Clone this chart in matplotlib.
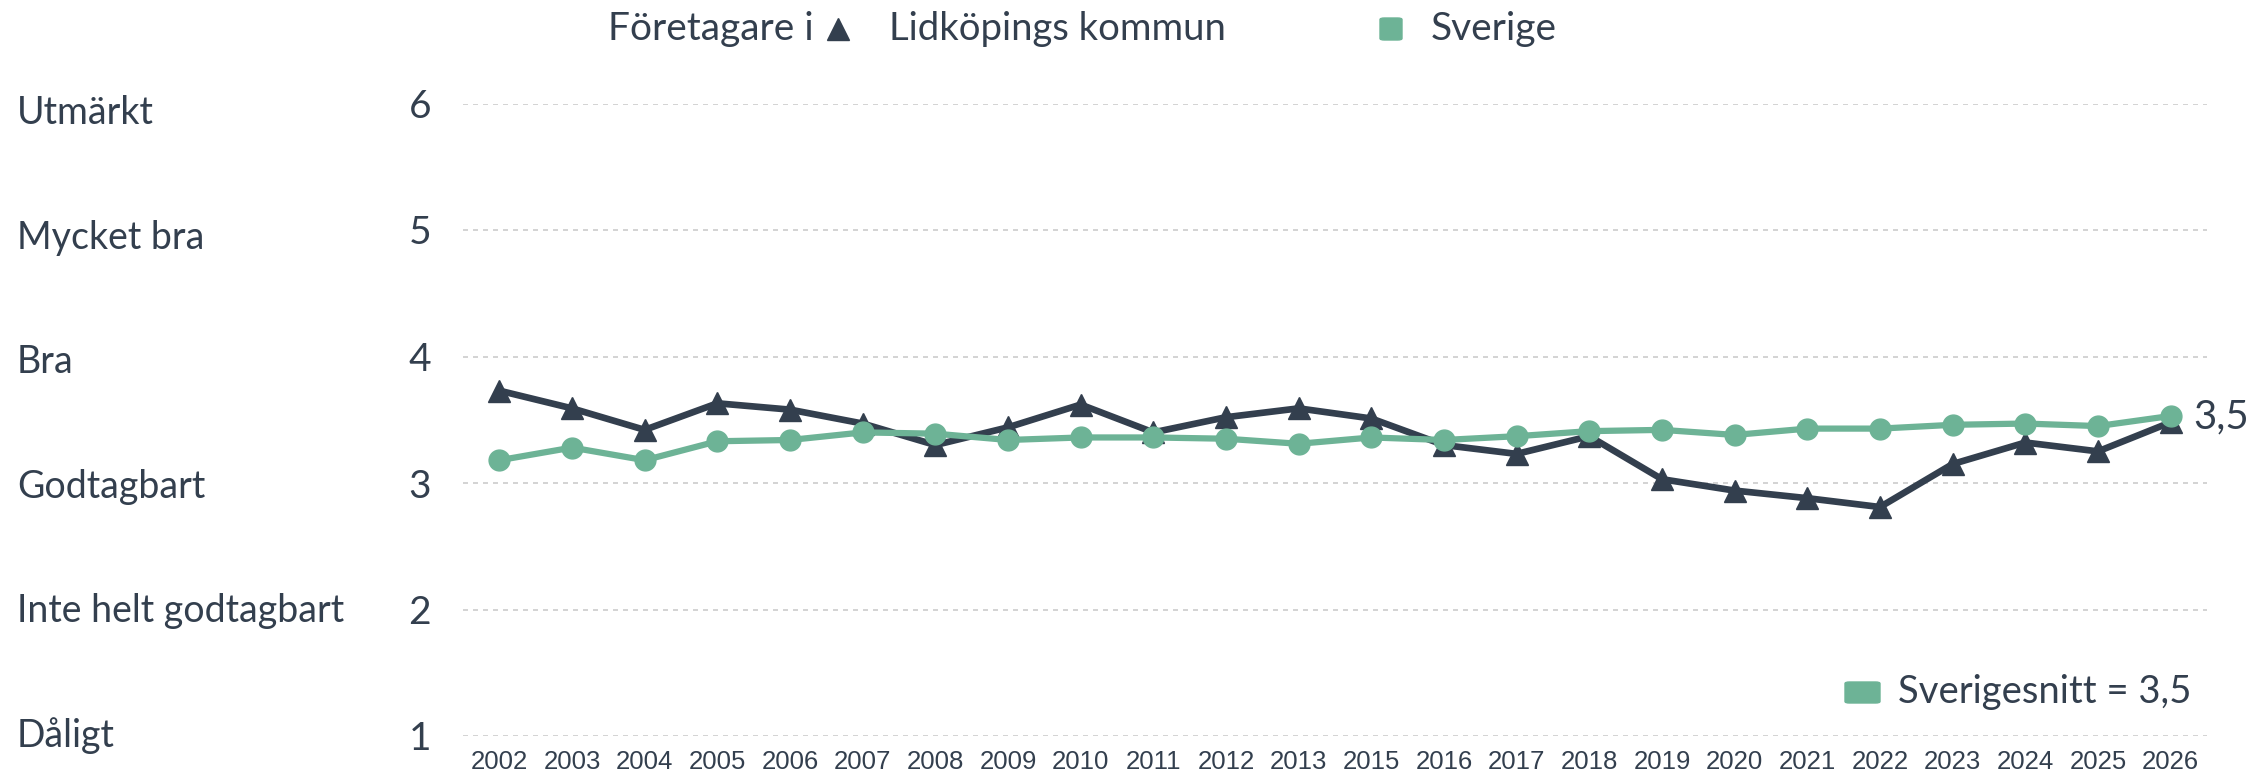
import matplotlib
matplotlib.use("Agg")
import matplotlib.pyplot as plt
from matplotlib.lines import Line2D
from matplotlib.patches import FancyBboxPatch
from matplotlib.transforms import blended_transform_factory, ScaledTranslation

# years on the x axis (no 2014 in the survey)
years = ["2002", "2003", "2004", "2005", "2006", "2007", "2008", "2009", "2010", "2011", "2012", "2013",
         "2015", "2016", "2017", "2018", "2019", "2020", "2021", "2022", "2023", "2024", "2025", "2026"]
lidkoping = [3.73, 3.59, 3.42, 3.63, 3.58, 3.47, 3.30, 3.44, 3.62, 3.40, 3.52, 3.59,
             3.51, 3.30, 3.23, 3.37, 3.03, 2.94, 2.88, 2.81, 3.15, 3.32, 3.25, 3.48]
sverige = [3.18, 3.28, 3.18, 3.33, 3.34, 3.40, 3.39, 3.34, 3.36, 3.36, 3.35, 3.31,
           3.36, 3.34, 3.37, 3.41, 3.42, 3.38, 3.43, 3.43, 3.46, 3.47, 3.45, 3.53]
levels = [1, 2, 3, 4, 5, 6]
level_names = ["Dåligt", "Inte helt godtagbart", "Godtagbart", "Bra", "Mycket bra", "Utmärkt"]
sverigesnitt = "3,5"

dark = "#333f4e"
green = "#6db396"
W, H = 2255, 779

plt.rcParams['font.family'] = ['Lato', 'DejaVu Sans']

fig = plt.figure(figsize=(W / 100, H / 100), dpi=100)
ax = fig.add_axes([463 / W, 1 - 736 / H, (2207 - 463) / W, (736 - 103.5) / H])

x = list(range(len(years)))
ax.plot(x, lidkoping, color=dark, lw=4.8, marker="^", ms=16, clip_on=False, zorder=3)
ax.plot(x, sverige, color=green, lw=4.5, marker="o", ms=15, clip_on=False, zorder=4)

# value label at the last point
ax.annotate(f"{lidkoping[-1]:.1f}".replace(".", ","), (x[-1], lidkoping[-1]), xytext=(16, 4),
            textcoords="offset points", va="center", ha="left", fontsize=29, color=dark,
            annotation_clip=False)

ax.set_xlim(-0.5, len(years) - 0.5)
ax.set_ylim(1, 6)
ax.set_xticks(x, years, fontsize=18.5, color=dark, family="Liberation Sans")
ax.set_yticks(levels, [str(v) for v in levels], fontsize=28, color=dark)
ax.tick_params(axis="x", length=0, pad=10)
ax.tick_params(axis="y", length=0, pad=23)
for s in ax.spines.values():
    s.set_visible(False)
ax.yaxis.grid(True, color="#cccccc", lw=1.2, ls=(0, (3, 3)))
ax.set_axisbelow(True)

# category names in a column on the left, spaced a bit tighter than the grid
trans = blended_transform_factory(fig.transFigure, ax.transData) + \
    ScaledTranslation(0, -0.134, fig.dpi_scale_trans)
for v, name in zip(levels, level_names):
    pos = 1.021 + (v - 1) * 0.9844
    ax.text(17 / W, pos, name, transform=trans, fontsize=27, color=dark, va="baseline", ha="left")

# top legend
fig.text(608 / W, 1 - 29 / H, "Företagare i", fontsize=28, color=dark, va="center", ha="left")
fig.add_artist(Line2D([838 / W], [1 - 29 / H], marker="^", ms=16, color=dark, ls="none"))
fig.text(889 / W, 1 - 29 / H, "Lidköpings kommun", fontsize=27.5, color=dark, va="center", ha="left")
fig.add_artist(FancyBboxPatch((1380 / W, 1 - 40 / H), 22 / W, 22 / H,
                              boxstyle="round,pad=0,rounding_size=0.002", color=green))
fig.text(1431 / W, 1 - 29 / H, "Sverige", fontsize=28, color=dark, va="center", ha="left")

# bottom right legend
fig.add_artist(FancyBboxPatch((1845 / W, 1 - 703 / H), 35 / W, 21 / H,
                              boxstyle="round,pad=0,rounding_size=0.002", color=green))
fig.text(1898 / W, 1 - 692 / H, "Sverigesnitt = " + sverigesnitt, fontsize=27.5, color=dark,
         va="center", ha="left")

fig.savefig("out.png", dpi=100)
